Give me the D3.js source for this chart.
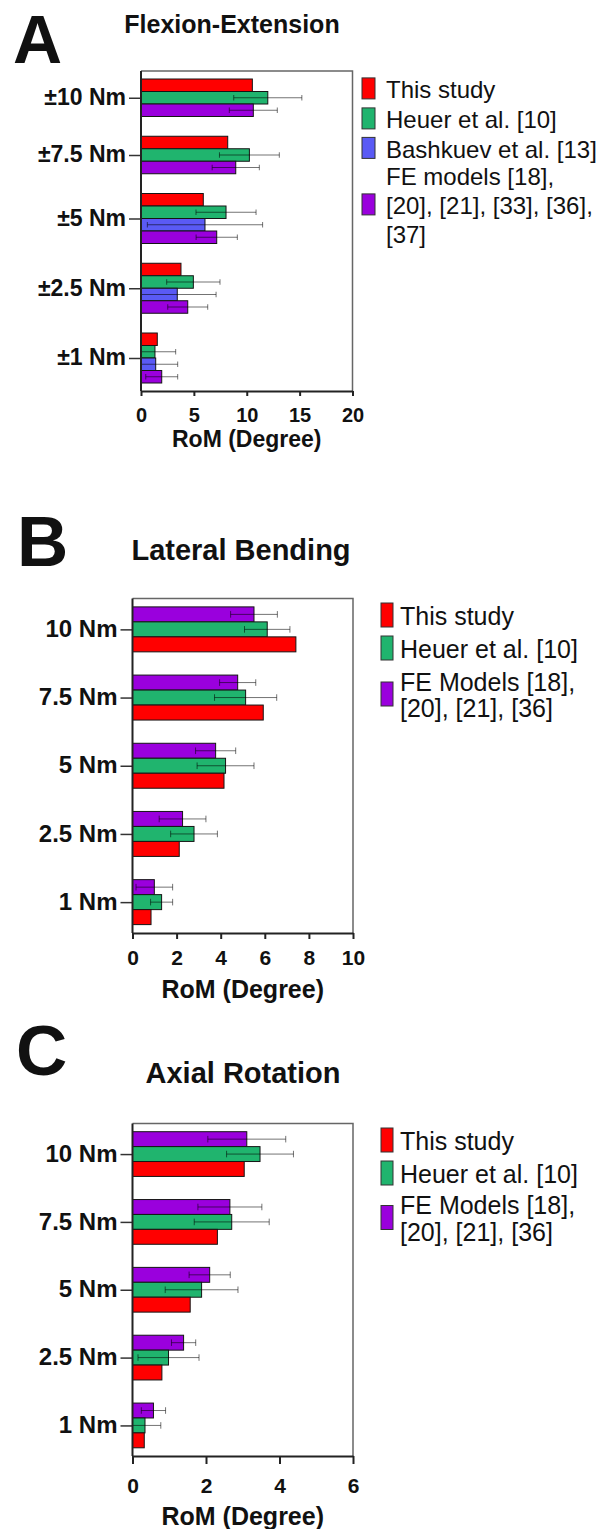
<!DOCTYPE html>
<html><head><meta charset="utf-8">
<script src="https://cdn.jsdelivr.net/npm/d3@7"></script>
<style>
body{margin:0;background:#fff}
svg{display:block}
text{font-family:"Liberation Sans",Arial,Helvetica,sans-serif;fill:#111}
</style>
</head><body>
<svg id="chart" width="603" height="1529"></svg>
<script>
// ---------------- DATA ----------------
const seriesColors = ["#ff0000", "#20b46e", "#5a5af5", "#9a00dd"]; // This study, Heuer, Bashkuev, FE models

// Panel A: Flexion-Extension
const catsA = ["±10 Nm", "±7.5 Nm", "±5 Nm", "±2.5 Nm", "±1 Nm"];
const thisStudyA = [10.53, 8.20, 5.89, 3.78, 1.54];
const heuerA     = [11.99, 10.25, 8.04, 4.95, 1.32];
const heuerSdA   = [3.22, 2.83, 2.84, 2.52, 1.96];
const bashkuevA  = [null, null, 6.05, 3.43, 1.39];
const bashkuevSdA= [null, null, 5.45, 3.67, 2.08];
const feModelsA  = [10.62, 8.96, 7.16, 4.42, 1.96];
const feModelsSdA= [2.27, 2.23, 1.95, 1.89, 1.51];
const ticksA = [0, 5, 10, 15, 20];
const legendA = ["This study", "Heuer et al. [10]", "Bashkuev et al. [13]", "FE models [18],|[20], [21], [33], [36],|[37]"];

// Panel B: Lateral Bending
const catsB = ["10 Nm", "7.5 Nm", "5 Nm", "2.5 Nm", "1 Nm"];
const thisStudyB = [7.41, 5.93, 4.15, 2.12, 0.84];
const heuerB     = [6.11, 5.13, 4.22, 2.79, 1.32];
const heuerSdB   = [1.03, 1.41, 1.29, 1.06, 0.50];
const feModelsB  = [5.51, 4.77, 3.77, 2.27, 0.99];
const feModelsSdB= [1.06, 0.82, 0.91, 1.06, 0.83];
const ticksB = [0, 2, 4, 6, 8, 10];
const legendB = ["This study", "Heuer et al. [10]", "FE Models [18],|[20], [21], [36]"];

// Panel C: Axial Rotation
const catsC = ["10 Nm", "7.5 Nm", "5 Nm", "2.5 Nm", "1 Nm"];
const thisStudyC = [3.04, 2.31, 1.57, 0.80, 0.32];
const heuerC     = [3.47, 2.70, 1.88, 0.98, 0.34];
const heuerSdC   = [0.91, 1.02, 0.99, 0.83, 0.43];
const feModelsC  = [3.11, 2.65, 2.10, 1.39, 0.57];
const feModelsSdC= [1.06, 0.87, 0.56, 0.33, 0.33];
const ticksC = [0, 2, 4, 6];
const legendC = ["This study", "Heuer et al. [10]", "FE Models [18],|[20], [21], [36]"];

const axisTitle = "RoM (Degree)";

// ---------------- PANELS ----------------
const panels = [
  {
    letter: "A", letterPos: [13, 63], letterSize: 68, title: "Flexion-Extension", titlePos: [232, 33], titleSize: 25,
    cats: catsA, values: [thisStudyA, heuerA, bashkuevA, feModelsA], errors: [null, heuerSdA, bashkuevSdA, feModelsSdA],
    order: [0, 1, 2, 3], ticks: ticksA, xDomain: [0, 20],
    frame: {left: 141, right: 352.5, top: 71, bottom: 391}, padUnits: 0.64, gapUnits: 1.58,
    catSize: 23, tickLen: 12, tickPad: 3, xTickLen: 5, xTickPad: 12, xTickSize: 20, axisTitleY: 447, axisTitleSize: 23,
    legend: {labels: legendA, series: [0, 1, 2, 3], swX: 362, swW: 13, swH: 21, textX: 386, size: 24,
             baselines: [[98], [128], [157.5], [185, 214, 243]], swLine: [0, 0, 0, 1]}
  },
  {
    letter: "B", letterPos: [17, 566], letterSize: 71, title: "Lateral Bending", titlePos: [241, 560], titleSize: 29,
    cats: catsB, values: [thisStudyB, heuerB, null, feModelsB], errors: [null, heuerSdB, null, feModelsSdB],
    order: [3, 1, 0], ticks: ticksB, xDomain: [0, 10],
    frame: {left: 132.5, right: 353, top: 598.5, bottom: 933}, padUnits: 0.56, gapUnits: 1.55,
    catSize: 24, tickLen: 12, tickPad: 3, xTickLen: 6, xTickPad: 11, xTickSize: 21, axisTitleY: 998, axisTitleSize: 25,
    legend: {labels: legendB, series: [0, 1, 3], swX: 381, swW: 12, swH: 24, textX: 400, size: 25,
             baselines: [[625], [658], [691, 717]], swLine: [0, 0, -1]}
  },
  {
    letter: "C", letterPos: [16, 1075], letterSize: 71, title: "Axial Rotation", titlePos: [243, 1083], titleSize: 29,
    cats: catsC, values: [thisStudyC, heuerC, null, feModelsC], errors: [null, heuerSdC, null, feModelsSdC],
    order: [3, 1, 0], ticks: ticksC, xDomain: [0, 6],
    frame: {left: 132.5, right: 353, top: 1123.5, bottom: 1456}, padUnits: 0.55, gapUnits: 1.55,
    catSize: 24, tickLen: 12, tickPad: 3, xTickLen: 8, xTickPad: 14, xTickSize: 21, axisTitleY: 1525, axisTitleSize: 25,
    legend: {labels: legendC, series: [0, 1, 3], swX: 381, swW: 12, swH: 24, textX: 400, size: 25,
             baselines: [[1150], [1183], [1214, 1241]], swLine: [0, 0, -1]}
  }
];

const svg = d3.select("#chart");

function drawPanel(p) {
  const g = svg.append("g");
  const x = d3.scaleLinear().domain(p.xDomain).range([p.frame.left, p.frame.right]);

  const groups = p.cats.map((c, i) => ({
    cat: c,
    items: p.order
      .filter(k => p.values[k] && p.values[k][i] != null)
      .map(k => ({k, v: p.values[k][i], e: p.errors[k] ? p.errors[k][i] : null}))
  }));
  let u = p.padUnits;
  groups.forEach((gr, i) => {
    gr.start = u; u += gr.items.length; gr.end = u;
    u += (i < groups.length - 1) ? p.gapUnits : p.padUnits;
  });
  const y = d3.scaleLinear().domain([0, u]).range([p.frame.top, p.frame.bottom]);

  // letter + title
  g.append("text").attr("x", p.letterPos[0]).attr("y", p.letterPos[1])
    .attr("font-size", p.letterSize).attr("font-weight", "bold").attr("fill", "#000").text(p.letter);
  g.append("text").attr("x", p.titlePos[0]).attr("y", p.titlePos[1]).attr("text-anchor", "middle")
    .attr("font-size", p.titleSize).attr("font-weight", "bold").text(p.title);

  // frame top/right
  g.append("path")
    .attr("d", `M${p.frame.left},${p.frame.top}H${p.frame.right}V${p.frame.bottom}`)
    .attr("fill", "none").attr("stroke", "#666").attr("stroke-width", 1.5);

  // bars
  groups.forEach(gr => {
    gr.items.forEach((it, j) => {
      const y0 = y(gr.start + j), y1 = y(gr.start + j + 1);
      g.append("rect")
        .attr("x", x(0)).attr("y", y0)
        .attr("width", x(it.v) - x(0)).attr("height", y1 - y0)
        .attr("fill", seriesColors[it.k]).attr("stroke", "#151515").attr("stroke-width", 1);
      if (it.e != null) {
        const lo = Math.max(p.xDomain[0], it.v - it.e), hi = it.v + it.e;
        const yc = (y0 + y1) / 2, cap = (y1 - y0) * 0.22;
        const eg = g.append("g").attr("stroke", "#000").attr("stroke-opacity", 0.55).attr("stroke-width", 1);
        eg.append("line").attr("x1", x(lo)).attr("x2", x(hi)).attr("y1", yc).attr("y2", yc);
        eg.append("line").attr("x1", x(hi)).attr("x2", x(hi)).attr("y1", yc - cap).attr("y2", yc + cap);
        if (lo > p.xDomain[0]) eg.append("line").attr("x1", x(lo)).attr("x2", x(lo)).attr("y1", yc - cap).attr("y2", yc + cap);
      }
    });
  });

  // left axis
  const yCat = d3.scaleOrdinal().domain(p.cats).range(groups.map(gr => y((gr.start + gr.end) / 2)));
  const ya = g.append("g").attr("transform", `translate(${p.frame.left},0)`)
    .call(d3.axisLeft(yCat).tickSize(p.tickLen).tickPadding(p.tickPad));
  ya.select(".domain").remove();
  ya.selectAll(".tick line").attr("stroke", "#333").attr("stroke-width", 1.5);
  ya.selectAll(".tick text").attr("font-size", p.catSize).attr("font-weight", "bold")
    .attr("font-family", "'Liberation Sans',Arial,sans-serif").attr("fill", "#111").attr("dy", "0.3em");
  g.append("line").attr("x1", p.frame.left).attr("x2", p.frame.left)
    .attr("y1", p.frame.top).attr("y2", p.frame.bottom).attr("stroke", "#222").attr("stroke-width", 2);

  // bottom axis
  const xa = g.append("g").attr("transform", `translate(0,${p.frame.bottom})`)
    .call(d3.axisBottom(x).tickValues(p.ticks).tickFormat(d3.format("d")).tickSize(p.xTickLen).tickSizeOuter(0).tickPadding(p.xTickPad));
  xa.select(".domain").attr("stroke", "#222").attr("stroke-width", 2);
  xa.selectAll(".tick line").attr("stroke", "#222").attr("stroke-width", 2);
  xa.selectAll(".tick text").attr("font-size", p.xTickSize).attr("font-weight", "bold")
    .attr("font-family", "'Liberation Sans',Arial,sans-serif").attr("fill", "#111");
  g.append("text").attr("x", (p.frame.left + p.frame.right) / 2).attr("y", p.axisTitleY)
    .attr("text-anchor", "middle").attr("font-size", p.axisTitleSize).attr("font-weight", "bold").text(axisTitle);

  // legend
  const L = p.legend;
  L.labels.forEach((lab, i) => {
    const lines = lab.split("|");
    const bl = L.baselines[i];
    lines.forEach((ln, li) => {
      g.append("text").attr("x", L.textX).attr("y", bl[li]).attr("font-size", L.size)
        .attr("fill", "#222").text(ln);
    });
    let cy;
    if (L.swLine[i] >= 0) cy = bl[L.swLine[i]] - 0.4 * L.size;
    else cy = d3.mean(bl) - 0.4 * L.size;
    g.append("rect").attr("x", L.swX).attr("y", cy - L.swH / 2).attr("width", L.swW).attr("height", L.swH)
      .attr("fill", seriesColors[L.series[i]]).attr("stroke", "#333").attr("stroke-width", 1);
  });
}

panels.forEach(drawPanel);
</script>
</body></html>
